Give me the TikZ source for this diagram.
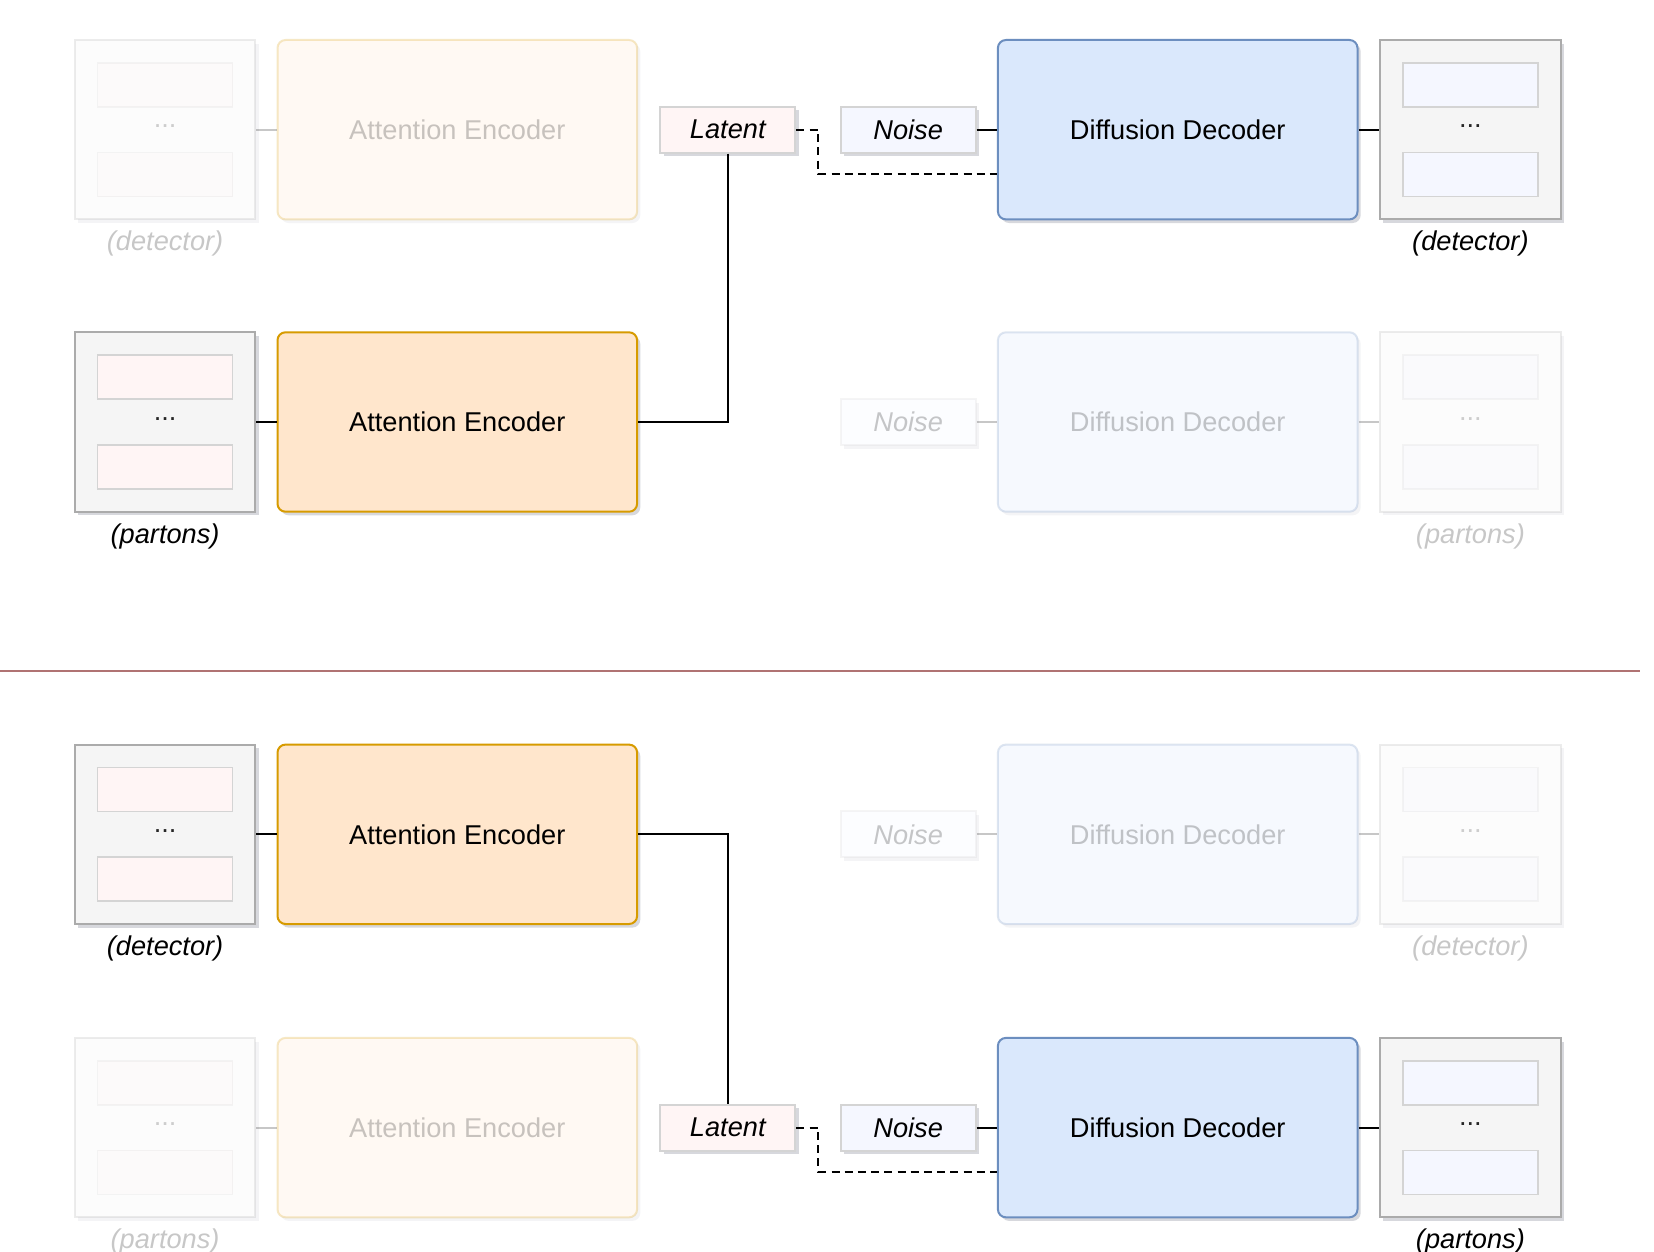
\documentclass[tikz,border=0pt]{standalone}
\usepackage{fontspec}
\setmainfont{Liberation Sans}
\usetikzlibrary{shadows}
\definecolor{encfill}{HTML}{FFE6CC}
\definecolor{encdraw}{HTML}{D79B00}
\definecolor{decfill}{HTML}{DAE8FC}
\definecolor{decdraw}{HTML}{6C8EBF}
\definecolor{boxfill}{HTML}{F5F5F5}
\definecolor{boxdraw}{HTML}{ABABAB}
\definecolor{pinkfill}{HTML}{FFF5F5}
\definecolor{bluefill}{HTML}{F5F7FF}
\definecolor{smalldraw}{HTML}{D4D4D4}
\definecolor{sepcol}{HTML}{B07373}
\definecolor{shadcol}{HTML}{4A5068}
\newcommand{\stdfont}{\fontsize{13.6}{16}\selectfont}
\tikzset{
  every node/.style={font=\stdfont},
  shad/.style={drop shadow={shadow xshift=1.6pt,shadow yshift=-1.8pt,opacity=0.22,fill=shadcol}},
  fshad/.style={drop shadow={shadow xshift=1.6pt,shadow yshift=-1.8pt,opacity=0.06,fill=shadcol}},
  whiteunder/.style={preaction={fill=white,fill opacity=1,draw=none}},
  on/.style={},
  off/.style={opacity=0.22,text opacity=0.22},
  on-s/.style={shad},
  off-s/.style={fshad,whiteunder,off},
  outerbox/.style={draw=boxdraw,fill=boxfill,line width=1pt,minimum width=90.2pt,minimum height=89.7pt,inner sep=0pt},
  pinkrect/.style={draw=smalldraw,fill=pinkfill,line width=0.8pt,minimum width=67.5pt,minimum height=22pt,inner sep=0pt},
  bluerect/.style={draw=smalldraw,fill=bluefill,line width=0.8pt,minimum width=67.5pt,minimum height=22pt,inner sep=0pt},
  dotstext/.style={inner sep=0pt,text=black!85},
  encbox/.style={draw=encdraw,fill=encfill,line width=1pt,rounded corners=4pt,minimum width=179.8pt,minimum height=89.7pt,inner sep=0pt},
  decbox/.style={draw=decdraw,fill=decfill,line width=1pt,rounded corners=4pt,minimum width=179.8pt,minimum height=89.7pt,inner sep=0pt},
  latbox/.style={draw=smalldraw,fill=pinkfill,line width=1pt,minimum width=67.5pt,minimum height=23pt,inner sep=0pt,font=\stdfont\itshape},
  noisebox/.style={draw=smalldraw,fill=bluefill,line width=1pt,minimum width=67.5pt,minimum height=23pt,inner sep=0pt,font=\stdfont\itshape},
  lab/.style={inner sep=0pt,font=\stdfont\itshape},
  conn/.style={line width=1pt,draw=black},
  fconn/.style={line width=1pt,draw=black,opacity=0.22},
  dconn/.style={line width=1pt,draw=black,dash pattern=on 4pt off 2.6pt},
  sepline/.style={line width=1.2pt,draw=sepcol}
}
% name, x, y, rect style, label, state
\newcommand{\stackbox}[6]{%
  \node[outerbox,#6-s] (#1) at (#2,#3) {};
  \node[#4,#6] (#1-a) at (#2,{#3-44.8}) {};
  \node[#4,#6] (#1-b) at (#2,{#3+44.8}) {};
  \node[dotstext,#6,anchor=base] (#1-d) at (#2,{#3-2}) {...};
  \node[lab,#6] (#1-l) at (#2,{#3+114}) {#5};
}
\begin{document}
\begin{tikzpicture}[x=0.5pt,y=-0.5pt]
\useasboundingbox (0,0) rectangle (1654,1252);
\fill[white] (0,0) rectangle (1654,1252);

% ---------- upper half ----------
% row 1
\stackbox{d1}{165.1}{129.7}{pinkrect}{(detector)}{off}
\node[encbox,off-s] (e1) at (457.3,129.7) {Attention Encoder};
\node[latbox,shad] (lat1) at (727.8,129.7) {Latent};
\node[noisebox,shad] (n1) at (908.2,129.7) {Noise};
\node[decbox,shad] (dec1) at (1177.7,129.7) {Diffusion Decoder};
\stackbox{d1r}{1470.4}{129.7}{bluerect}{(detector)}{on}
% row 2
\stackbox{p2}{165.1}{422}{pinkrect}{(partons)}{on}
\node[encbox,shad] (e2) at (457.3,422) {Attention Encoder};
\node[noisebox,off-s] (n2) at (908.2,422) {Noise};
\node[decbox,off-s] (dec2) at (1177.7,422) {Diffusion Decoder};
\stackbox{p2r}{1470.4}{422}{bluerect}{(partons)}{off}

\draw[fconn] (d1.east) -- (e1.west);
\draw[conn] (lat1.south) |- (e2.east);
\draw[dconn] (lat1.east) -- ++(22,0) |- ([yshift=-22pt]dec1.west);
\draw[conn] (n1.east) -- (dec1.west);
\draw[conn] (dec1.east) -- (d1r.west);
\draw[conn] (p2.east) -- (e2.west);
\draw[fconn] (n2.east) -- (dec2.west);
\draw[fconn] (dec2.east) -- (p2r.west);

% ---------- separator ----------
\coordinate (sepL) at (0,671);
\coordinate (sepR) at (1640,671);
\draw[sepline] (sepL) -- (sepR);

% ---------- lower half ----------
% row 3
\stackbox{d3}{165.1}{834.3}{pinkrect}{(detector)}{on}
\node[encbox,shad] (e3) at (457.3,834.3) {Attention Encoder};
\node[noisebox,off-s] (n3) at (908.2,834.3) {Noise};
\node[decbox,off-s] (dec3) at (1177.7,834.3) {Diffusion Decoder};
\stackbox{d3r}{1470.4}{834.3}{bluerect}{(detector)}{off}
% row 4
\stackbox{p4}{165.1}{1127.6}{pinkrect}{(partons)}{off}
\node[encbox,off-s] (e4) at (457.3,1127.6) {Attention Encoder};
\node[latbox,shad] (lat4) at (727.8,1127.6) {Latent};
\node[noisebox,shad] (n4) at (908.2,1127.6) {Noise};
\node[decbox,shad] (dec4) at (1177.7,1127.6) {Diffusion Decoder};
\stackbox{p4r}{1470.4}{1127.6}{bluerect}{(partons)}{on}

\draw[conn] (d3.east) -- (e3.west);
\draw[conn] (e3.east) -| (lat4.north);
\draw[fconn] (n3.east) -- (dec3.west);
\draw[fconn] (dec3.east) -- (d3r.west);
\draw[fconn] (p4.east) -- (e4.west);
\draw[dconn] (lat4.east) -- ++(22,0) |- ([yshift=-22pt]dec4.west);
\draw[conn] (n4.east) -- (dec4.west);
\draw[conn] (dec4.east) -- (p4r.west);
\end{tikzpicture}
\end{document}
